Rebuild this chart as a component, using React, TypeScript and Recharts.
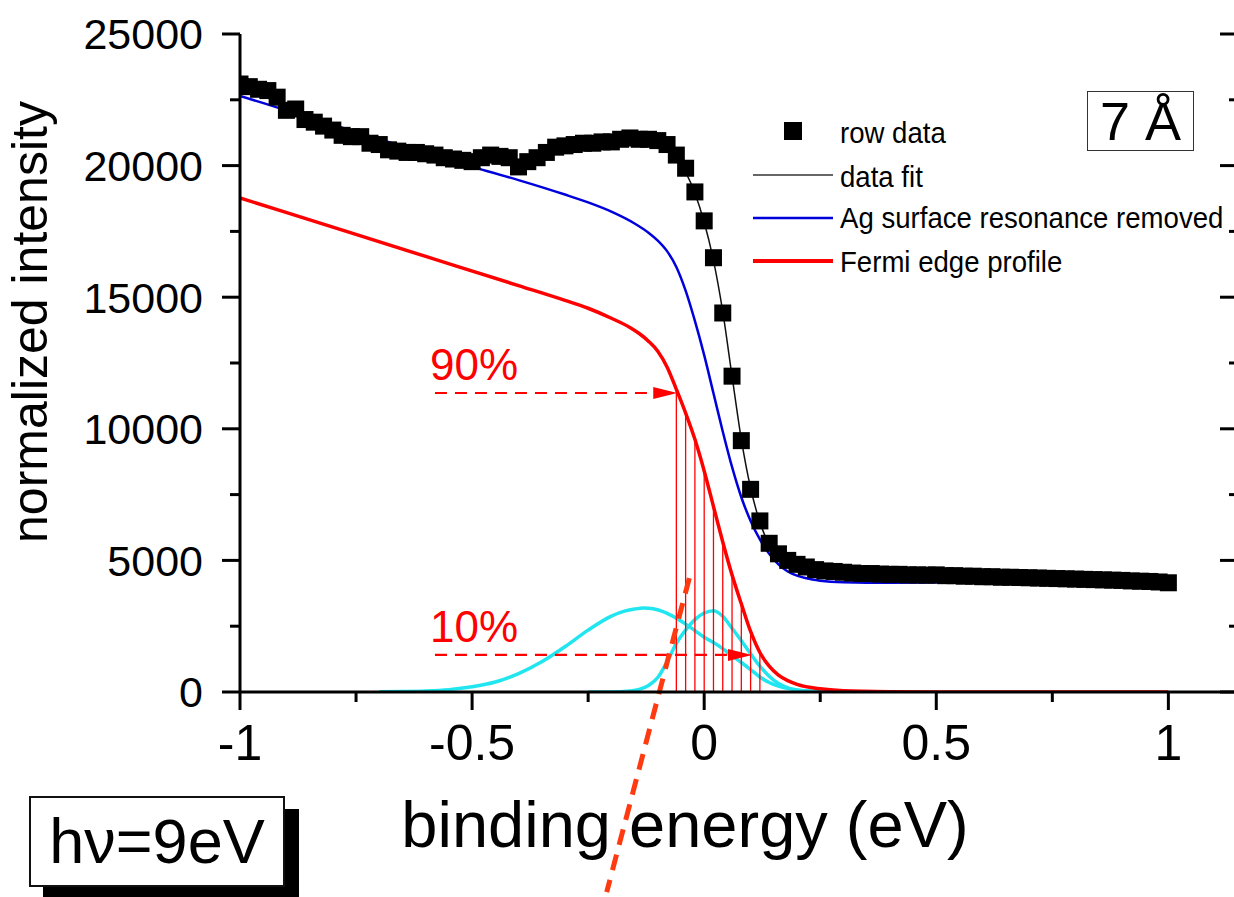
import React from 'react'
import {
  ComposedChart,
  Line,
  Scatter,
  XAxis,
  YAxis,
  ReferenceLine,
  Legend,
} from 'recharts'

const FONT = '"Liberation Sans", Arial, Helvetica, sans-serif'
const RED = '#ff0000'
const BLUE = '#0000dd'
const CYAN = '#22e6ef'

// axis ticks: majors get a label, the others are minor ticks
const energyTicks = [-1, -0.75, -0.5, -0.25, 0, 0.25, 0.5, 0.75, 1]
const intensityTicks = [0, 2500, 5000, 7500, 10000, 12500, 15000, 17500, 20000, 22500, 25000]

// row data (black squares)
const rawEnergy = [
  -1.0, -0.98, -0.96, -0.94, -0.92, -0.9, -0.88, -0.86, -0.84, -0.82,
  -0.8, -0.78, -0.76, -0.74, -0.72, -0.7, -0.68, -0.66, -0.64, -0.62,
  -0.6, -0.58, -0.56, -0.54, -0.52, -0.5, -0.48, -0.46, -0.44, -0.42,
  -0.4, -0.38, -0.36, -0.34, -0.32, -0.3, -0.28, -0.26, -0.24, -0.22,
  -0.2, -0.18, -0.16, -0.14, -0.12, -0.1, -0.08, -0.06, -0.04, -0.02,
  0.0, 0.02, 0.04, 0.06, 0.08, 0.1, 0.12, 0.14, 0.16, 0.18,
  0.2, 0.22, 0.24, 0.26, 0.28, 0.3, 0.32, 0.34, 0.36, 0.38,
  0.4, 0.42, 0.44, 0.46, 0.48, 0.5, 0.52, 0.54, 0.56, 0.58,
  0.6, 0.62, 0.64, 0.66, 0.68, 0.7, 0.72, 0.74, 0.76, 0.78,
  0.8, 0.82, 0.84, 0.86, 0.88, 0.9, 0.92, 0.94, 0.96, 0.98, 1.0,
]
const rawIntensity = [
  23100, 23000, 22900, 22850, 22600, 22100, 22150, 21750, 21650, 21500,
  21350, 21150, 21100, 21100, 20850, 20800, 20600, 20550, 20500, 20500,
  20450, 20400, 20300, 20250, 20200, 20150, 20300, 20400, 20350, 20300,
  19950, 20150, 20300, 20500, 20700, 20750, 20800, 20850, 20850, 20900,
  20900, 21000, 21050, 21000, 21000, 20950, 20800, 20400, 19900, 19000,
  17900, 16500, 14400, 12000, 9550, 7700, 6500, 5650, 5250, 5000,
  4850, 4750, 4650, 4600, 4580, 4550, 4520, 4500, 4500, 4480,
  4470, 4470, 4450, 4450, 4440, 4450, 4420, 4420, 4400, 4400,
  4380, 4380, 4360, 4360, 4350, 4340, 4330, 4320, 4310, 4300,
  4290, 4280, 4270, 4260, 4250, 4240, 4220, 4210, 4200, 4180, 4150,
]

// data fit (thin black line)
const fitEnergy = [
  -1, -0.9, -0.8, -0.7, -0.6, -0.5, -0.4, -0.3, -0.2, -0.15, -0.1, -0.08, -0.06,
  -0.04, -0.02, 0, 0.02, 0.04, 0.06, 0.08, 0.1, 0.12, 0.14, 0.16, 0.18, 0.2,
  0.25, 0.3, 0.4, 0.5, 0.7, 0.9, 1.0,
]
const fitIntensity = [
  23000, 22300, 21400, 20750, 20450, 20250, 20200, 20600, 20900, 21000, 20850, 20650, 20300,
  19750, 18950, 17850, 16400, 14450, 12000, 9600, 7750, 6450, 5600, 5150, 4880, 4720,
  4550, 4480, 4450, 4420, 4330, 4240, 4200,
]

// Ag surface resonance removed (blue)
const agEnergy = [
  -1, -0.9, -0.8, -0.7, -0.6, -0.5, -0.4, -0.3, -0.25, -0.2, -0.15, -0.12, -0.1,
  -0.08, -0.06, -0.04, -0.02, 0, 0.02, 0.04, 0.06, 0.08, 0.1, 0.12, 0.14, 0.16,
  0.18, 0.2, 0.22, 0.25, 0.3, 0.4, 0.6, 0.8, 1.0,
]
const agIntensity = [
  22650, 22100, 21550, 21000, 20450, 19950, 19450, 18900, 18600, 18250, 17800, 17450, 17150,
  16750, 16150, 15250, 14100, 12800, 11350, 9900, 8550, 7400, 6500, 5800, 5250, 4850,
  4580, 4420, 4320, 4230, 4170, 4150, 4180, 4220, 4250,
]

// Fermi edge profile (red)
const fermiEnergy = [
  -1, -0.8, -0.6, -0.4, -0.3, -0.25, -0.2, -0.16, -0.14, -0.12, -0.1, -0.08, -0.06,
  -0.04, -0.02, 0, 0.02, 0.04, 0.06, 0.08, 0.1, 0.12, 0.14, 0.16, 0.18, 0.2, 0.25,
  0.3, 0.4, 0.5, 0.7, 1.0,
]
const fermiIntensity = [
  18770, 17660, 16550, 15440, 14880, 14580, 14200, 13850, 13620, 13330, 12950, 12350, 11500,
  10600, 9600, 8400, 7050, 5700, 4450, 3350, 2300, 1500, 980, 640, 430, 290, 120,
  50, 10, 0, 0, 0,
]

// cyan components
const peak1Energy = [
  -0.7, -0.65, -0.6, -0.55, -0.5, -0.45, -0.4, -0.35, -0.3, -0.25, -0.2, -0.17, -0.15,
  -0.13, -0.11, -0.09, -0.07, -0.04, -0.02, 0, 0.02, 0.04, 0.06, 0.08, 0.1, 0.12,
  0.14, 0.16, 0.2, 0.25, 0.3, 0.4,
]
const peak1Intensity = [
  10, 20, 40, 90, 200, 380, 700, 1150, 1720, 2350, 2880, 3080, 3150,
  3190, 3160, 3060, 2900, 2580, 2330, 2080, 1880, 1650, 1380, 1120, 850, 570,
  360, 220, 80, 20, 0, 0,
]
const peak2Energy = [
  -0.25, -0.2, -0.16, -0.14, -0.12, -0.1, -0.08, -0.06, -0.04, -0.02, 0, 0.02, 0.04,
  0.06, 0.08, 0.1, 0.12, 0.14, 0.16, 0.18, 0.2, 0.25, 0.3, 0.4,
]
const peak2Intensity = [
  0, 0, 40, 100, 250, 550, 1150, 1850, 2350, 2750, 3000, 3090, 2880,
  2420, 1950, 1450, 980, 600, 320, 160, 70, 10, 0, 0,
]

// 90% / 10% arrows
const arrowLabels = ['90%', '10%']
const arrowFrom = [-0.58, -0.58]
const arrowTo = [-0.058, 0.103]
const arrowLevel = [11360, 1410]

// energies of the thin red drop lines
const dropEnergy = [-0.06, -0.04, -0.02, 0, 0.02, 0.04, 0.06, 0.08, 0.1, 0.12]

// thick dashed slope line
const slopeEnergy = [-0.032, -0.21]
const slopeIntensity = [4330, -7600]

const toPoints = (xs: number[], ys: number[]) => xs.map((x, i) => ({ x, y: ys[i] }))

const rawData = toPoints(rawEnergy, rawIntensity)
const fitData = toPoints(fitEnergy, fitIntensity)
const agData = toPoints(agEnergy, agIntensity)
const fermiData = toPoints(fermiEnergy, fermiIntensity)
const peak1Data = toPoints(peak1Energy, peak1Intensity)
const peak2Data = toPoints(peak2Energy, peak2Intensity)

const isMajorX = (v: number) => Math.abs(v * 2 - Math.round(v * 2)) < 1e-6
const isMajorY = (v: number) => v % 5000 === 0

const BottomTick = (p: any) => {
  const { x, y, payload } = p
  const major = isMajorX(payload.value)
  return (
    <g>
      <line x1={x} y1={y} x2={x} y2={y + (major ? 18 : 10)} stroke="#000" strokeWidth={3} />
      {major && (
        <text x={x} y={y + 68} textAnchor="middle" fontSize={50} fontFamily={FONT} fill="#000">
          {String(payload.value)}
        </text>
      )}
    </g>
  )
}

const TopTick = (p: any) => {
  const { x, y, payload } = p
  const major = isMajorX(payload.value)
  return <line x1={x} y1={y} x2={x} y2={y + (major ? 19 : 10)} stroke="#000" strokeWidth={3} />
}

const LeftTick = (p: any) => {
  const { x, y, payload } = p
  const major = isMajorY(payload.value)
  return (
    <g>
      <line x1={x - (major ? 18 : 10)} y1={y} x2={x} y2={y} stroke="#000" strokeWidth={3} />
      {major && (
        <text x={x - 37} y={y} dy="0.36em" textAnchor="end" fontSize={43} fontFamily={FONT} fill="#000">
          {payload.value}
        </text>
      )}
    </g>
  )
}

const RightTick = (p: any) => {
  const { x, y, payload } = p
  const major = isMajorY(payload.value)
  return <line x1={x - (major ? 18 : 9)} y1={y} x2={x} y2={y} stroke="#000" strokeWidth={3} />
}

const Square = (p: any) => (
  <rect x={p.cx - 8.5} y={p.cy - 8.5} width={17} height={17} fill="#000" />
)

const arrowShape = (label: string) => (p: any) => {
  const { x1, y1, x2, y2 } = p
  const head = 24
  return (
    <g>
      <line x1={x1} y1={y1} x2={x2 - head + 2} y2={y2} stroke={RED} strokeWidth={2.2} strokeDasharray="12 8" />
      <polygon points={`${x2},${y2} ${x2 - head},${y2 - 6} ${x2 - head},${y2 + 6}`} fill={RED} />
      <text x={x1 - 5} y={y1 - 13} fontSize={44} fill={RED} fontFamily={FONT}>
        {label}
      </text>
    </g>
  )
}

const LegendBox = () => (
  <svg width={494} height={180} style={{ display: 'block', overflow: 'visible' }}>
    <rect x={44} y={17} width={18} height={18} fill="#000" />
    <line x1={13} y1={70} x2={93} y2={70} stroke="#333" strokeWidth={1.5} />
    <line x1={13} y1={113} x2={93} y2={113} stroke={BLUE} strokeWidth={2.5} />
    <line x1={13} y1={156} x2={93} y2={156} stroke={RED} strokeWidth={4} />
    <g fontFamily={FONT} fontSize={30} fill="#000" transform="translate(100 0) scale(0.92 1)">
      <text x={0} y={38}>row data</text>
      <text x={0} y={82}>data fit</text>
      <text x={0} y={123}>Ag surface resonance removed</text>
      <text x={0} y={167}>Fermi edge profile</text>
    </g>
  </svg>
)

export default function App() {
  return (
    <div
      style={{
        position: 'absolute',
        left: 0,
        top: 0,
        width: 1234,
        height: 897,
        overflow: 'hidden',
        background: '#fff',
        fontFamily: FONT,
      }}
    >
      <ComposedChart width={1240} height={897} margin={{ top: 34, right: 0, bottom: 0, left: 0 }}>
        <XAxis
          xAxisId="x"
          dataKey="x"
          type="number"
          domain={[-1, 1.15]}
          allowDataOverflow
          ticks={energyTicks}
          interval={0}
          height={205}
          tickSize={0}
          tickMargin={0}
          tickLine={false}
          axisLine={{ stroke: '#000', strokeWidth: 3 }}
          tick={<BottomTick />}
          label={(lp: any) => {
            const vb = lp.viewBox || { x: 240, y: 692 }
            return (
              <text x={vb.x + 445} y={vb.y + 155} textAnchor="middle" fontSize={65} fontFamily={FONT} fill="#000">
                binding energy (eV)
              </text>
            )
          }}
        />
        <XAxis
          xAxisId="top"
          orientation="top"
          dataKey="x"
          type="number"
          domain={[-1, 1.15]}
          allowDataOverflow
          ticks={energyTicks}
          interval={0}
          height={0}
          tickSize={0}
          tickMargin={0}
          tickLine={false}
          axisLine={{ stroke: '#000', strokeWidth: 3 }}
          tick={<TopTick />}
        />
        <YAxis
          yAxisId="y"
          type="number"
          domain={[0, 25000]}
          allowDataOverflow
          ticks={intensityTicks}
          interval={0}
          width={240}
          tickSize={0}
          tickMargin={0}
          tickLine={false}
          axisLine={{ stroke: '#000', strokeWidth: 3 }}
          tick={<LeftTick />}
          label={(lp: any) => {
            const vb = lp.viewBox || { x: 0, y: 34 }
            const cx = vb.x + 47
            const cy = vb.y + 288
            return (
              <text
                x={cx}
                y={cy}
                transform={`rotate(-90 ${cx} ${cy})`}
                textAnchor="middle"
                fontSize={50}
                fontFamily={FONT}
                fill="#000"
              >
                normalized intensity
              </text>
            )
          }}
        />
        <YAxis
          yAxisId="r"
          orientation="right"
          type="number"
          domain={[0, 25000]}
          allowDataOverflow
          ticks={intensityTicks}
          interval={0}
          width={2}
          tickSize={0}
          tickMargin={0}
          tickLine={false}
          axisLine={{ stroke: '#000', strokeWidth: 3 }}
          tick={<RightTick />}
        />

        <Line
          xAxisId="x"
          yAxisId="y"
          data={fitData}
          dataKey="y"
          type="monotone"
          stroke="#111"
          strokeWidth={1.5}
          dot={false}
          isAnimationActive={false}
        />
        <Scatter
          xAxisId="x"
          yAxisId="y"
          data={rawData}
          dataKey="y"
          shape={Square}
          isAnimationActive={false}
        />
        <Line
          xAxisId="x"
          yAxisId="y"
          data={agData}
          dataKey="y"
          type="monotone"
          stroke={BLUE}
          strokeWidth={2.5}
          dot={false}
          isAnimationActive={false}
        />
        <Line
          xAxisId="x"
          yAxisId="y"
          data={peak1Data}
          dataKey="y"
          type="monotone"
          stroke={CYAN}
          strokeWidth={3.5}
          dot={false}
          isAnimationActive={false}
        />
        <Line
          xAxisId="x"
          yAxisId="y"
          data={peak2Data}
          dataKey="y"
          type="monotone"
          stroke={CYAN}
          strokeWidth={3.5}
          dot={false}
          isAnimationActive={false}
        />
        <Line
          xAxisId="x"
          yAxisId="y"
          data={fermiData}
          dataKey="y"
          type="monotone"
          stroke={RED}
          strokeWidth={3.5}
          dot={false}
          isAnimationActive={false}
        />

        {fermiData
          .filter((d) => dropEnergy.some((e) => Math.abs(e - d.x) < 1e-9))
          .map((d) => (
            <ReferenceLine
              key={`drop-${d.x}`}
              xAxisId="x"
              yAxisId="y"
              segment={[
                { x: d.x, y: 0 },
                { x: d.x, y: d.y },
              ]}
              stroke={RED}
              strokeWidth={1.3}
            />
          ))}

        {arrowLabels.map((lbl, i) => (
          <ReferenceLine
            key={lbl}
            xAxisId="x"
            yAxisId="y"
            segment={[
              { x: arrowFrom[i], y: arrowLevel[i] },
              { x: arrowTo[i], y: arrowLevel[i] },
            ]}
            shape={arrowShape(lbl)}
          />
        ))}

        <ReferenceLine
          xAxisId="x"
          yAxisId="y"
          ifOverflow="visible"
          segment={[
            { x: slopeEnergy[0], y: slopeIntensity[0] },
            { x: slopeEnergy[1], y: slopeIntensity[1] },
          ]}
          stroke="#ff3a10"
          strokeWidth={5}
          strokeDasharray="16 10"
        />

        <Legend
          layout="vertical"
          align="center"
          verticalAlign="middle"
          wrapperStyle={{ position: 'absolute', left: 740, top: 105, width: 494, height: 180 }}
          content={() => <LegendBox />}
        />
      </ComposedChart>

      <div
        style={{
          position: 'absolute',
          left: 1087,
          top: 91,
          width: 105,
          height: 58,
          border: '1.5px solid #333',
          display: 'flex',
          alignItems: 'center',
          justifyContent: 'center',
          fontSize: 54,
          lineHeight: 1,
          background: '#fff',
        }}
      >
        7 Å
      </div>

      <div
        style={{
          position: 'absolute',
          left: 43,
          top: 809,
          width: 256,
          height: 91,
          background: '#000',
        }}
      />
      <div
        style={{
          position: 'absolute',
          left: 29,
          top: 796,
          width: 252,
          height: 87,
          border: '2px solid #111',
          background: '#fff',
          display: 'flex',
          alignItems: 'center',
          justifyContent: 'center',
          fontSize: 63,
          lineHeight: 1,
        }}
      >
        hν=9eV
      </div>
    </div>
  )
}
